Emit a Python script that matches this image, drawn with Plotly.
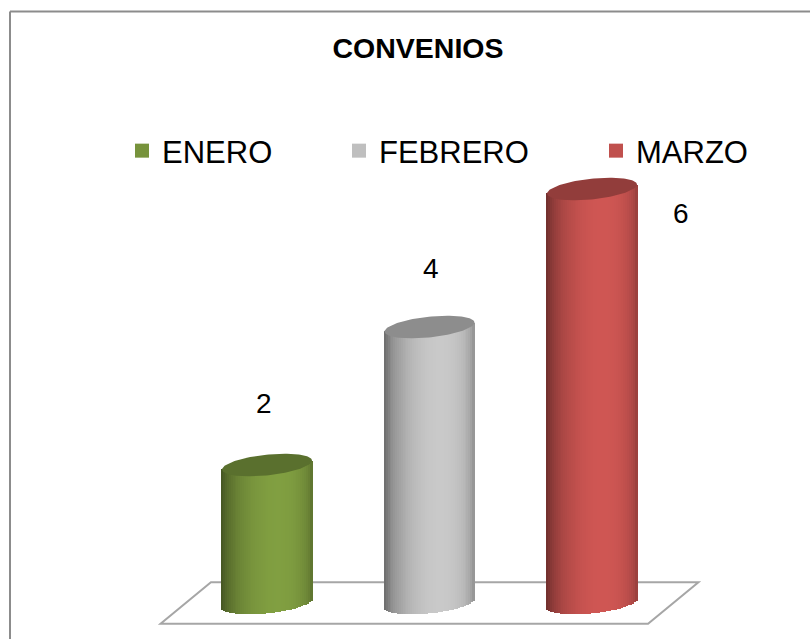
import numpy as np
import plotly.graph_objects as go

# ---------------- data ----------------
categories = ["ENERO", "FEBRERO", "MARZO"]
values = [2, 4, 6]
title_text = "CONVENIOS"

# ---------------- style ----------------
base_colors = [(0x77, 0x93, 0x3C), (0xBA, 0xBA, 0xBA), (0xC0, 0x50, 0x4D)]
legend_colors = ["#77933C", "#BFBFBF", "#C0504D"]
legend_x_px = [122, 339, 596]
label_shifts = [(-3, 62), (1, 59), (89, -24)]
FONT = "Liberation Sans, Arial, sans-serif"

W, H = 810, 639
A = 0.277    # cylinder half-width (x units)
B = 0.15     # ellipse half-height (y units)
S = 0.235    # perspective tilt
N = 48       # shading strips
PHI = 0.25   # light direction


def shade(rgb, k):
    return "rgb(%d,%d,%d)" % tuple(min(255, max(0, round(c * k))) for c in rgb)


fig = go.Figure()
legend_ids = ["legend", "legend2", "legend3"]
for i, (cat, v, rgb) in enumerate(zip(categories, values, base_colors)):
    step = 2 * A / N
    dx = -A + step * (np.arange(N) + 0.5)
    theta = np.arcsin(np.clip(dx / A, -1, 1))
    inten = 0.6 + 0.48 * np.clip(np.cos(theta - PHI), 0, None)
    base = S * dx - B * np.sqrt(np.clip(1 - (dx / A) ** 2, 0, None))
    top = v + S * dx
    fig.add_trace(go.Bar(
        x=i + dx, y=top - base, base=base, width=step * 1.6,
        marker=dict(color=[shade(rgb, k) for k in inten], line=dict(width=0)),
        showlegend=False, hoverinfo="skip"))
    ph = np.linspace(0, 2 * np.pi, 120)
    ex = A * np.cos(ph)
    ey = v + S * ex + B * np.sin(ph)
    fig.add_trace(go.Scatter(
        x=i + ex, y=ey, fill="toself", mode="lines", line=dict(width=0),
        fillcolor=shade(rgb, 0.76), showlegend=False, hoverinfo="skip"))
    fig.add_trace(go.Scatter(
        x=[None], y=[None], name=cat, mode="markers",
        marker=dict(symbol="square", size=14, color=legend_colors[i], line=dict(width=0)),
        legend=legend_ids[i]))

# data labels
for i, (v, (sx, sy)) in enumerate(zip(values, label_shifts)):
    fig.add_annotation(x=i, y=v, text=str(v), showarrow=False, xshift=sx, yshift=sy,
                       xanchor="center", yanchor="middle",
                       font=dict(family=FONT, size=28, color="#000000"))

# floor (axis plane)
n = len(categories)
d, h = 0.155, 0.3
floor = (f"M {-0.5 - d},{-h} L {n - 0.5 - d},{-h} L {n - 0.5 + d},{h} "
         f"L {-0.5 + d},{h} Z")
fig.add_shape(type="path", path=floor, xref="x", yref="y", layer="below",
              line=dict(color="#A6A6A6", width=2), fillcolor="rgba(0,0,0,0)")

# chart frame
fx, fy = 10 / W, 1 - 11.5 / H
fig.add_shape(type="line", xref="paper", yref="paper", x0=fx, x1=1.02, y0=fy, y1=fy,
              line=dict(color="#8C8C8C", width=2))
fig.add_shape(type="line", xref="paper", yref="paper", x0=fx, x1=fx, y0=-0.02, y1=fy,
              line=dict(color="#8C8C8C", width=2))

leg_common = dict(orientation="h", yanchor="middle", y=1 - 151 / H, xanchor="left",
                  font=dict(family=FONT, size=31, color="#000000"),
                  bgcolor="rgba(0,0,0,0)", borderwidth=0)

# map pixels to data: x center of cat0 at 267px, 162.5px per category;
# value 0 at 603px, 69px per unit
x0px, xs = 267, 162.5
y0px, ys = 603, 69
fig.update_layout(
    width=W, height=H,
    margin=dict(l=0, r=0, t=0, b=0),
    paper_bgcolor="white", plot_bgcolor="white",
    barmode="overlay", bargap=0,
    title=dict(text="<b>" + title_text + "</b>", x=418 / W, xanchor="center",
               y=1 - 48 / H, yanchor="middle",
               font=dict(family=FONT, size=28.5, color="#000000")),
    xaxis=dict(range=[-x0px / xs, (W - x0px) / xs], visible=False, fixedrange=True),
    yaxis=dict(range=[-(H - y0px) / ys, y0px / ys], visible=False, fixedrange=True),
    legend=dict(x=legend_x_px[0] / W, **leg_common),
    legend2=dict(x=legend_x_px[1] / W, **leg_common),
    legend3=dict(x=legend_x_px[2] / W, **leg_common),
    showlegend=True,
)

fig.write_html("out.html", config={"displayModeBar": False},
               post_script="document.body.style.margin='0px';document.body.style.overflow='hidden';")
